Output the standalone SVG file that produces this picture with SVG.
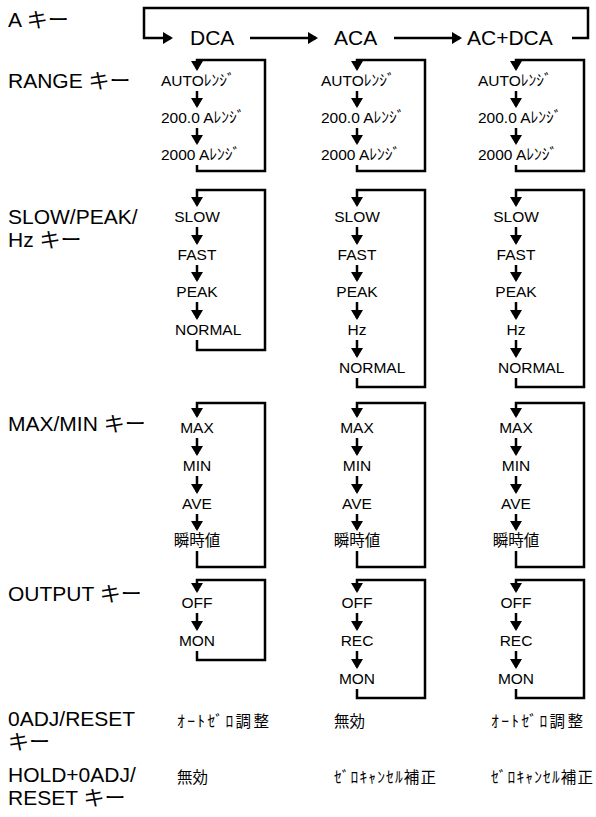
<svg xmlns="http://www.w3.org/2000/svg" width="596" height="817" viewBox="0 0 596 817">
<defs>
<marker id="ah" viewBox="0 0 10 12" refX="8" refY="6" markerWidth="10" markerHeight="12" markerUnits="userSpaceOnUse" orient="auto">
<path d="M0,0 L10,6 L0,12 z" fill="#000"/>
</marker>
<style>
text{font-family:"Liberation Sans","Noto Sans CJK JP",sans-serif;fill:#000}
.lbl{font-size:21px}
.hd{font-size:21px}
.it{font-size:15.5px}
.c{text-anchor:middle}
#connectors path{fill:none;stroke:#000;stroke-width:2.5;marker-end:url(#ah)}
</style>
</defs>
<rect width="596" height="817" fill="#fff"/>
<g id="labels">
<g id="lbl-a"><text class="lbl" x="8" y="27">A キー</text></g>
<g id="lbl-range"><text class="lbl" x="8" y="88">RANGE キー</text></g>
<g id="lbl-slow"><text class="lbl" x="8" y="224">SLOW/PEAK/</text><text class="lbl" x="8" y="247">Hz キー</text></g>
<g id="lbl-max"><text class="lbl" x="8" y="431">MAX/MIN キー</text></g>
<g id="lbl-out"><text class="lbl" x="8" y="601">OUTPUT キー</text></g>
<g id="lbl-adj"><text class="lbl" x="8" y="726">0ADJ/RESET</text><text class="lbl" x="8" y="749">キー</text></g>
<g id="lbl-hold"><text class="lbl" x="8" y="782">HOLD+0ADJ/</text><text class="lbl" x="8" y="805">RESET キー</text></g>
</g>
<g id="mode-dca"><text class="hd" x="190" y="45">DCA</text></g>
<g id="mode-aca"><text class="hd" x="334" y="45">ACA</text></g>
<g id="mode-acdca"><text class="hd" x="467" y="45">AC+DCA</text></g>

<g id="col1">
<g id="c1-range"><text class="it" x="161" y="86">AUTOﾚﾝｼﾞ</text><text class="it" x="161" y="123">200.0 Aﾚﾝｼﾞ</text><text class="it" x="161" y="160">2000 Aﾚﾝｼﾞ</text></g>
<g id="c1-slow"><text class="it c" x="197" y="222">SLOW</text><text class="it c" x="197" y="260">FAST</text><text class="it c" x="197" y="297">PEAK</text><text class="it" x="175" y="335">NORMAL</text></g>
<g id="c1-max"><text class="it c" x="197" y="433">MAX</text><text class="it c" x="197" y="471">MIN</text><text class="it c" x="197" y="509">AVE</text><text class="it c" x="197" y="546">瞬時値</text></g>
<g id="c1-out"><text class="it c" x="197" y="608">OFF</text><text class="it c" x="197" y="646">MON</text></g>
<g id="c1-adj"><text class="it" x="177" y="727" textLength="92" lengthAdjust="spacing">ｵｰﾄｾﾞﾛ調整</text></g>
<g id="c1-hold"><text class="it" x="177" y="783">無効</text></g>
</g>

<g id="col2">
<g id="c2-range"><text class="it" x="321" y="86">AUTOﾚﾝｼﾞ</text><text class="it" x="321" y="123">200.0 Aﾚﾝｼﾞ</text><text class="it" x="321" y="160">2000 Aﾚﾝｼﾞ</text></g>
<g id="c2-slow"><text class="it c" x="357" y="222">SLOW</text><text class="it c" x="357" y="260">FAST</text><text class="it c" x="357" y="297">PEAK</text><text class="it c" x="357" y="335">Hz</text><text class="it" x="339" y="373">NORMAL</text></g>
<g id="c2-max"><text class="it c" x="357" y="433">MAX</text><text class="it c" x="357" y="471">MIN</text><text class="it c" x="357" y="509">AVE</text><text class="it c" x="357" y="546">瞬時値</text></g>
<g id="c2-out"><text class="it c" x="357" y="608">OFF</text><text class="it c" x="357" y="646">REC</text><text class="it c" x="357" y="684">MON</text></g>
<g id="c2-adj"><text class="it" x="334" y="727">無効</text></g>
<g id="c2-hold"><text class="it" x="334" y="783" textLength="102" lengthAdjust="spacing">ｾﾞﾛｷｬﾝｾﾙ補正</text></g>
</g>

<g id="col3">
<g id="c3-range"><text class="it" x="478" y="86">AUTOﾚﾝｼﾞ</text><text class="it" x="478" y="123">200.0 Aﾚﾝｼﾞ</text><text class="it" x="478" y="160">2000 Aﾚﾝｼﾞ</text></g>
<g id="c3-slow"><text class="it c" x="516" y="222">SLOW</text><text class="it c" x="516" y="260">FAST</text><text class="it c" x="516" y="297">PEAK</text><text class="it c" x="516" y="335">Hz</text><text class="it" x="498" y="373">NORMAL</text></g>
<g id="c3-max"><text class="it c" x="516" y="433">MAX</text><text class="it c" x="516" y="471">MIN</text><text class="it c" x="516" y="509">AVE</text><text class="it c" x="516" y="546">瞬時値</text></g>
<g id="c3-out"><text class="it c" x="516" y="608">OFF</text><text class="it c" x="516" y="646">REC</text><text class="it c" x="516" y="684">MON</text></g>
<g id="c3-adj"><text class="it" x="491" y="727" textLength="92" lengthAdjust="spacing">ｵｰﾄｾﾞﾛ調整</text></g>
<g id="c3-hold"><text class="it" x="491" y="783" textLength="102" lengthAdjust="spacing">ｾﾞﾛｷｬﾝｾﾙ補正</text></g>
</g>

<g id="connectors">
<path d="M572,38 H588 V8 H144 V38 H171"/>
<path d="M250,38 H316"/>
<path d="M394,38 H460"/>

<path d="M197,165 V171 H265 V60 H197 V69"/>
<path d="M197,91 V106"/><path d="M197,128 V143"/>
<path d="M357,165 V171 H425 V60 H357 V69"/>
<path d="M357,91 V106"/><path d="M357,128 V143"/>
<path d="M516,165 V171 H584 V60 H516 V69"/>
<path d="M516,91 V106"/><path d="M516,128 V143"/>

<path d="M197,340 V350 H265 V190 H197 V205"/>
<path d="M197,227 V243"/><path d="M197,265 V280"/><path d="M197,302 V318"/>
<path d="M357,378 V387 H425 V190 H357 V205"/>
<path d="M357,227 V243"/><path d="M357,265 V280"/><path d="M357,302 V318"/><path d="M357,340 V356"/>
<path d="M516,378 V387 H584 V190 H516 V205"/>
<path d="M516,227 V243"/><path d="M516,265 V280"/><path d="M516,302 V318"/><path d="M516,340 V356"/>

<path d="M197,551 V567 H265 V403 H197 V416"/>
<path d="M197,438 V454"/><path d="M197,476 V492"/><path d="M197,514 V529"/>
<path d="M357,551 V567 H425 V403 H357 V416"/>
<path d="M357,438 V454"/><path d="M357,476 V492"/><path d="M357,514 V529"/>
<path d="M516,551 V567 H584 V403 H516 V416"/>
<path d="M516,438 V454"/><path d="M516,476 V492"/><path d="M516,514 V529"/>

<path d="M197,651 V660 H265 V580 H197 V591"/>
<path d="M197,613 V629"/>
<path d="M357,689 V698 H425 V580 H357 V591"/>
<path d="M357,613 V629"/><path d="M357,651 V667"/>
<path d="M516,689 V698 H584 V580 H516 V591"/>
<path d="M516,613 V629"/><path d="M516,651 V667"/>
</g>
</svg>
